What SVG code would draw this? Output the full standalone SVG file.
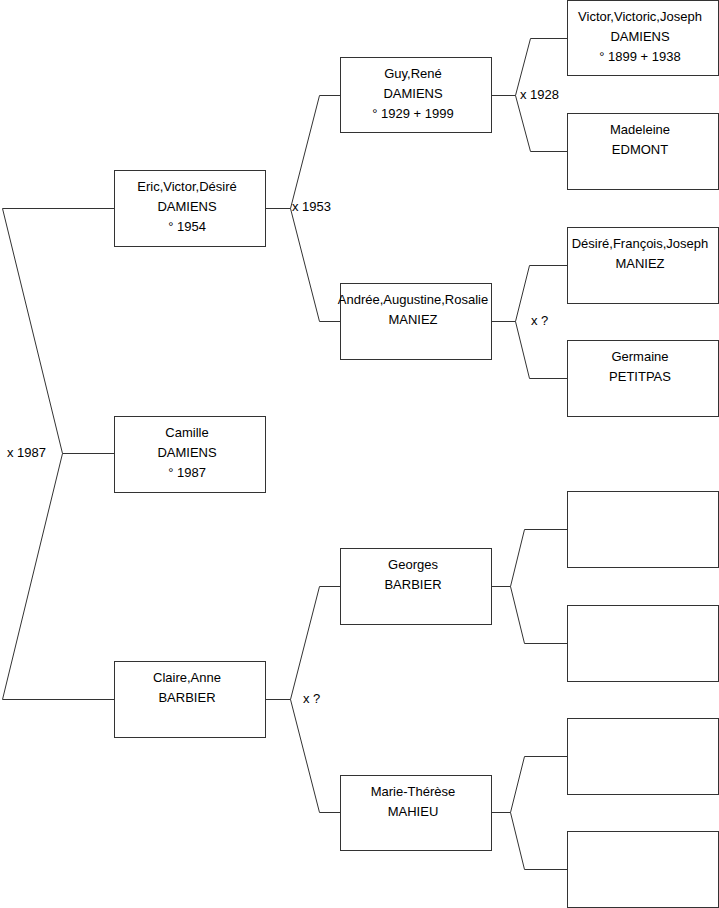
<svg xmlns="http://www.w3.org/2000/svg" width="719" height="908" viewBox="0 0 719 908">
<style>
.box{fill:#fff;stroke:#333;stroke-width:1}
.ln{fill:none;stroke:#333;stroke-width:1}
text{font-family:"Liberation Sans",Arial,sans-serif;font-size:13px;fill:#000}
.c{text-anchor:middle}
</style>
<rect width="719" height="908" fill="#fff"/>
<g id="connectors" class="ln">
<polyline points="114,208.5 2.5,208.5 62.5,453.5 2.5,699.5 114,699.5"/>
<line x1="62.5" y1="453.5" x2="114" y2="453.5"/>
<polyline points="265,208.5 290.5,208.5"/>
<polyline points="340,95.5 319.5,95.5 290.5,208.5 319.5,321.5 340,321.5"/>
<polyline points="492,95.5 515.5,95.5"/>
<polyline points="567,38.5 530.5,38.5 515.5,95.5 530.5,151.5 567,151.5"/>
<polyline points="492,321.5 515.5,321.5"/>
<polyline points="567,265.5 529.5,265.5 515.5,321.5 529.5,378.5 567,378.5"/>
<polyline points="265,699.5 290.5,699.5"/>
<polyline points="340,586.5 319.5,586.5 290.5,699.5 319.5,812.5 340,812.5"/>
<polyline points="492,586.5 510.5,586.5"/>
<polyline points="567,529.5 524.5,529.5 510.5,586.5 524.5,643.5 567,643.5"/>
<polyline points="492,812.5 510.5,812.5"/>
<polyline points="567,756.5 524.5,756.5 510.5,812.5 524.5,869.5 567,869.5"/>
</g>
<g id="labels">
<text x="292" y="211">x 1953</text>
<text x="520" y="99">x 1928</text>
<text x="7" y="457">x 1987</text>
<text x="531" y="325">x ?</text>
<text x="303" y="703">x ?</text>
</g>
<g id="eric"><rect class="box" x="114.5" y="170.5" width="151" height="76"/>
<text class="c" x="187" y="191">Eric,Victor,Désiré</text><text class="c" x="187" y="211">DAMIENS</text><text class="c" x="187" y="231">° 1954</text></g>
<g id="camille"><rect class="box" x="114.5" y="416.5" width="151" height="76"/>
<text class="c" x="187" y="437">Camille</text><text class="c" x="187" y="457">DAMIENS</text><text class="c" x="187" y="477">° 1987</text></g>
<g id="claire"><rect class="box" x="114.5" y="661.5" width="151" height="76"/>
<text class="c" x="187" y="682">Claire,Anne</text><text class="c" x="187" y="702">BARBIER</text></g>
<g id="guy"><rect class="box" x="340.5" y="57.5" width="151" height="75"/>
<text class="c" x="413" y="78">Guy,René</text><text class="c" x="413" y="98">DAMIENS</text><text class="c" x="413" y="118">° 1929 + 1999</text></g>
<g id="andree"><rect class="box" x="340.5" y="283.5" width="151" height="76"/>
<text class="c" x="413" y="304">Andrée,Augustine,Rosalie</text><text class="c" x="413" y="324">MANIEZ</text></g>
<g id="georges"><rect class="box" x="340.5" y="548.5" width="151" height="76"/>
<text class="c" x="413" y="569">Georges</text><text class="c" x="413" y="589">BARBIER</text></g>
<g id="marie"><rect class="box" x="340.5" y="775.5" width="151" height="75"/>
<text class="c" x="413" y="796">Marie-Thérèse</text><text class="c" x="413" y="816">MAHIEU</text></g>
<g id="victor"><rect class="box" x="567.5" y="0.5" width="151" height="75"/>
<text class="c" x="640" y="21">Victor,Victoric,Joseph</text><text class="c" x="640" y="41">DAMIENS</text><text class="c" x="640" y="61">° 1899 + 1938</text></g>
<g id="madeleine"><rect class="box" x="567.5" y="113.5" width="151" height="76"/>
<text class="c" x="640" y="134">Madeleine</text><text class="c" x="640" y="154">EDMONT</text></g>
<g id="desire"><rect class="box" x="567.5" y="227.5" width="151" height="76"/>
<text class="c" x="640" y="248">Désiré,François,Joseph</text><text class="c" x="640" y="268">MANIEZ</text></g>
<g id="germaine"><rect class="box" x="567.5" y="340.5" width="151" height="76"/>
<text class="c" x="640" y="361">Germaine</text><text class="c" x="640" y="381">PETITPAS</text></g>
<g id="empty1"><rect class="box" x="567.5" y="491.5" width="151" height="76"/></g>
<g id="empty2"><rect class="box" x="567.5" y="605.5" width="151" height="76"/></g>
<g id="empty3"><rect class="box" x="567.5" y="718.5" width="151" height="76"/></g>
<g id="empty4"><rect class="box" x="567.5" y="831.5" width="151" height="76"/></g>
</svg>
